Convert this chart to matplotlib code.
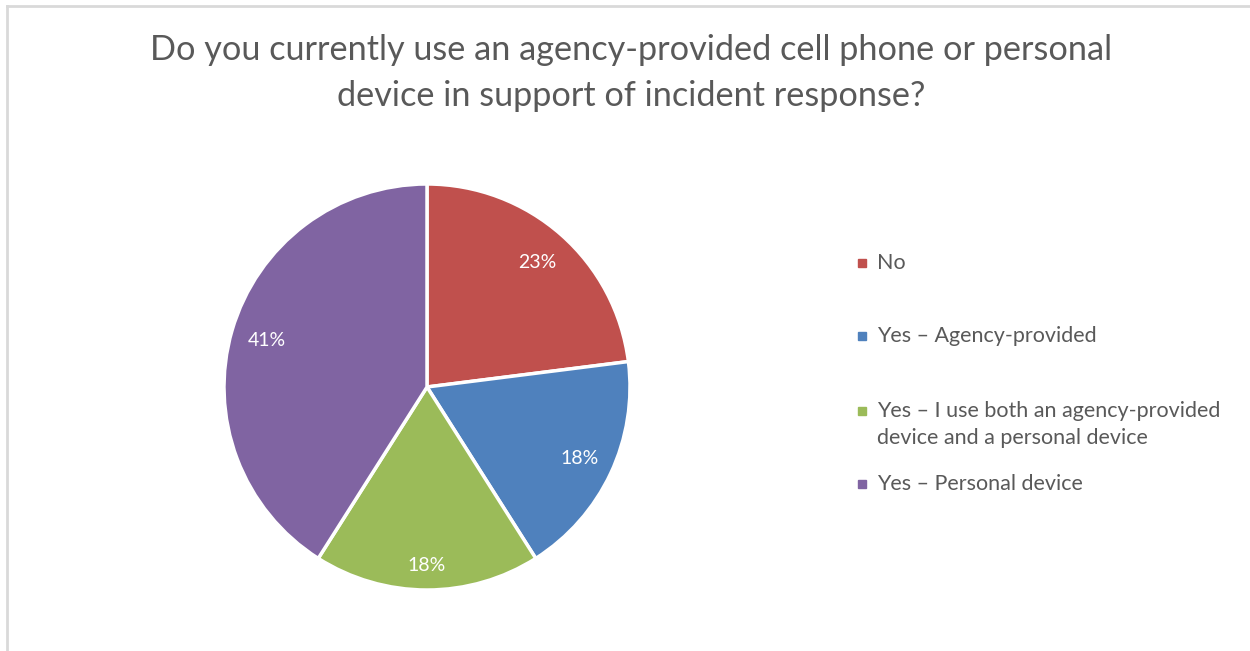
import numpy as np
import matplotlib.pyplot as plt
from matplotlib.patches import Rectangle
from matplotlib.lines import Line2D

plt.rcParams['font.family'] = ['Lato', 'DejaVu Sans']

title = 'Do you currently use an agency-provided cell phone or personal\ndevice in support of incident response?'
categories = ['No', 'Yes – Agency-provided',
              'Yes – I use both an agency-provided\ndevice and a personal device',
              'Yes – Personal device']
shares = [23, 18, 18, 41]
colors = ['#C0504D', '#4F81BD', '#9BBB59', '#8064A2']
label_dist = [0.82, 0.83, 0.88, 0.82]  # radial position of each % label
legend_y = [263, 336, 411, 484]  # pixel rows of legend markers, from top

W, H = 1250, 651
fig = plt.figure(figsize=(W / 100, H / 100), dpi=100)
text_color = '#595959'

# chart frame (left and top edges)
fig.add_artist(Line2D([7 / W, 7 / W], [0, 1 - 6 / H], color='#D9D9D9', lw=2))
fig.add_artist(Line2D([7 / W, 1], [1 - 6 / H, 1 - 6 / H], color='#D9D9D9', lw=2))

fig.text(631 / W, 1 - 73 / H, title, ha='center', va='center', fontsize=24.7,
         color=text_color, linespacing=1.5)

cx, cy, r = 427, 387, 203
ax = fig.add_axes([(cx - r) / W, (H - cy - r) / H, 2 * r / W, 2 * r / H])
wedges, texts = ax.pie(
    shares, colors=colors, startangle=90, counterclock=False,
    wedgeprops=dict(edgecolor='white', linewidth=2.5))
ax.set_xlim(-1, 1)
ax.set_ylim(-1, 1)
ax.set_aspect('equal')

total = sum(shares)
for w, s, d in zip(wedges, shares, label_dist):
    ang = np.deg2rad((w.theta1 + w.theta2) / 2)
    ax.text(d * np.cos(ang), d * np.sin(ang), f'{100 * s / total:.0f}%',
            ha='center', va='center', color='white', fontsize=14)

line_h = 27
for cat, col, y in zip(categories, colors, legend_y):
    n = cat.count('\n')
    fig.add_artist(Rectangle((858 / W, 1 - (y + 4) / H), 8 / W, 8 / H,
                             color=col, transform=fig.transFigure))
    fig.text(877 / W, 1 - (y + n * line_h / 2) / H, cat, ha='left', va='center',
             fontsize=15.5, color=text_color, linespacing=1.45)

fig.savefig('out.png', dpi=100, facecolor='white')
